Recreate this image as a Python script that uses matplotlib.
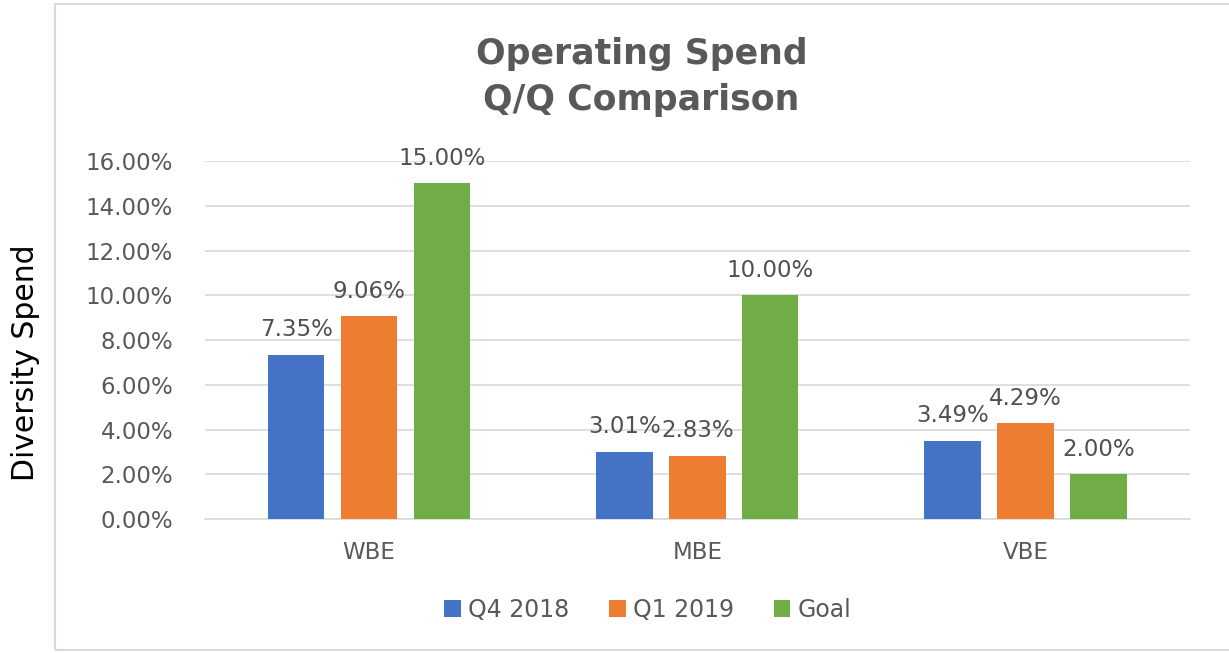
import numpy as np
import matplotlib.pyplot as plt
from matplotlib.patches import Rectangle

plt.rcParams['font.family'] = ['DejaVu Sans']

categories = ['WBE', 'MBE', 'VBE']
series_names = ['Q4 2018', 'Q1 2019', 'Goal']
q4_2018 = [7.35, 3.01, 3.49]
q1_2019 = [9.06, 2.83, 4.29]
goal = [15.00, 10.00, 2.00]
colors = ['#4472C4', '#ED7D31', '#70AD47']

fig = plt.figure(figsize=(12.29, 6.53), dpi=100)
ax = fig.add_axes([0.1668, 0.2052, 0.8012, 0.5482])

# outer chart border
fig.patches.append(Rectangle((0.045, 0.004), 0.96, 0.99, transform=fig.transFigure,
                             fill=False, edgecolor='#D9D9D9', linewidth=1.5))

x = np.arange(len(categories))
width = 0.172
step = 0.222
for i, (vals, name) in enumerate(zip([q4_2018, q1_2019, goal], series_names)):
    pos = x + (i - 1) * step
    ax.bar(pos, vals, width, color=colors[i], label=name, zorder=3)
    for p, v in zip(pos, vals):
        ax.text(p, v + 0.6, f'{v:.2f}%', ha='center', va='bottom',
                fontsize=16.5, color='#505050')

ax.set_xlim(-0.5, 2.5)
ax.set_ylim(0, 16)
ax.set_yticks(np.arange(0, 17, 2))
ax.set_yticklabels([f'{t:.2f}%' for t in np.arange(0, 17, 2)])
ax.set_xticks(x)
ax.set_xticklabels(categories)
ax.tick_params(axis='both', length=0, labelsize=16.5, colors='#595959')
ax.tick_params(axis='y', pad=23)
ax.tick_params(axis='x', pad=16)
ax.grid(axis='y', color='#D9D9D9', linewidth=1.2, zorder=0)
for s in ['top', 'right', 'left']:
    ax.spines[s].set_visible(False)
ax.spines['bottom'].set_color('#D9D9D9')
ax.spines['bottom'].set_linewidth(1.2)

fig.text(0.522, 0.882, 'Operating Spend\nQ/Q Comparison', ha='center', va='center',
         fontsize=25, fontweight='bold', color='#595959', linespacing=1.42)
fig.text(0.021, 0.445, 'Diversity Spend', rotation=90, ha='center', va='center',
         fontsize=21.5, color='black')

fig.legend(loc='center', bbox_to_anchor=(0.527, 0.066), ncol=3, frameon=False,
           fontsize=17, labelcolor='#595959', handlelength=0.7, handleheight=0.7,
           handletextpad=0.3, columnspacing=1.7)

fig.savefig('out.png', dpi=100)
